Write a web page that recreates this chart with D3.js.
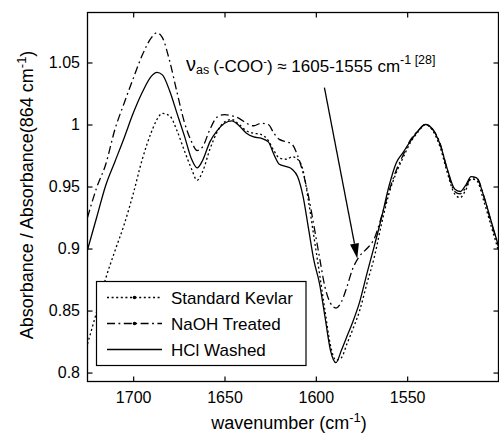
<!DOCTYPE html>
<html>
<head>
<meta charset="utf-8">
<script src="https://cdn.jsdelivr.net/npm/d3@7"></script>
<style>
  body { margin: 0; background: #fff; }
  svg { display: block; font-family: "Liberation Sans", Arial, sans-serif; }
</style>
</head>
<body>
<div id="chart"></div>
<script>
// valeurs (absorbance normalisée à 864 cm-1)
const wavenumber = [1725, 1720, 1715, 1710, 1705, 1700, 1695, 1690, 1687, 1684, 1680, 1676, 1672, 1668, 1665, 1662, 1658, 1654, 1650, 1646, 1642, 1638, 1634, 1630, 1626, 1623, 1620, 1616, 1613, 1610, 1607, 1604, 1601, 1598, 1595, 1592, 1589, 1586, 1583, 1580, 1576, 1572, 1568, 1564, 1560, 1556, 1552, 1548, 1544, 1540, 1536, 1532, 1528, 1524, 1521, 1518, 1515, 1512, 1508, 1504, 1500];

const standardKevlar = [0.823, 0.849, 0.876, 0.898, 0.919, 0.944, 0.972, 0.994, 1.004, 1.009, 1.007, 0.995, 0.979, 0.964, 0.955, 0.962, 0.980, 0.994, 1.002, 1.004, 1.000, 0.995, 0.993, 0.992, 0.987, 0.979, 0.973, 0.972, 0.974, 0.972, 0.963, 0.938, 0.909, 0.880, 0.850, 0.822, 0.810, 0.812, 0.823, 0.834, 0.850, 0.872, 0.893, 0.920, 0.944, 0.961, 0.974, 0.986, 0.994, 1.000, 0.995, 0.982, 0.961, 0.944, 0.941, 0.947, 0.956, 0.955, 0.938, 0.918, 0.898];

const naohTreated = [0.925, 0.949, 0.968, 0.996, 1.017, 1.037, 1.056, 1.070, 1.074, 1.070, 1.051, 1.026, 1.002, 0.986, 0.979, 0.982, 0.996, 1.006, 1.008, 1.007, 1.005, 1.001, 0.999, 1.001, 1.000, 0.993, 0.988, 0.986, 0.984, 0.975, 0.961, 0.942, 0.918, 0.893, 0.869, 0.856, 0.852, 0.857, 0.869, 0.883, 0.894, 0.900, 0.908, 0.926, 0.946, 0.963, 0.976, 0.988, 0.995, 1.000, 0.996, 0.985, 0.963, 0.946, 0.944, 0.949, 0.957, 0.957, 0.942, 0.921, 0.902];

const hclWashed = [0.899, 0.925, 0.951, 0.970, 0.989, 1.009, 1.026, 1.039, 1.042, 1.040, 1.027, 1.009, 0.991, 0.972, 0.965, 0.971, 0.986, 0.995, 1.001, 1.003, 0.999, 0.993, 0.990, 0.989, 0.986, 0.976, 0.968, 0.966, 0.964, 0.958, 0.942, 0.916, 0.890, 0.872, 0.845, 0.818, 0.808, 0.818, 0.829, 0.840, 0.857, 0.880, 0.902, 0.925, 0.950, 0.969, 0.978, 0.987, 0.995, 1.000, 0.996, 0.984, 0.964, 0.948, 0.946, 0.951, 0.958, 0.957, 0.942, 0.922, 0.902];

const seriesNames = ["Standard Kevlar", "NaOH Treated", "HCl Washed"];

const xTicks = [1700, 1650, 1600, 1550];
const xTickLabels = ["1700", "1650", "1600", "1550"];
const yTicks = [0.8, 0.85, 0.9, 0.95, 1, 1.05];
const yTickLabels = ["0.8", "0.85", "0.9", "0.95", "1", "1.05"];

// flèche de l'annotation (coordonnées données)
const arrowFrom = [1595.3, 1.0298];
const arrowTo = [1577.3, 0.892];

const canvasWidth = 499;
const canvasHeight = 433;
const plot = { left: 87.5, right: 498.5, top: 12.5, bottom: 381.5 };

const x = d3.scaleLinear([1725, 1500], [plot.left, plot.right]);
const y = d3.scaleLinear([0.7928, 1.0903], [plot.bottom, plot.top]);

const svg = d3
  .select("#chart")
  .append("svg")
  .attr("width", canvasWidth)
  .attr("height", canvasHeight);

svg.append("rect")
  .attr("width", canvasWidth)
  .attr("height", canvasHeight)
  .attr("fill", "white");

// axes, ticks vers l'intérieur (style matlab)
const tickLen = 5;

svg.append("g")
  .attr("transform", `translate(0,${plot.bottom})`)
  .call(d3.axisBottom(x).tickValues(xTicks)
    .tickFormat((d, i) => xTickLabels[i])
    .tickSizeInner(-tickLen).tickSizeOuter(0).tickPadding(10));

svg.append("g")
  .attr("transform", `translate(0,${plot.top})`)
  .call(d3.axisTop(x).tickValues(xTicks).tickFormat("")
    .tickSizeInner(-tickLen).tickSizeOuter(0));

svg.append("g")
  .attr("transform", `translate(${plot.left},0)`)
  .call(d3.axisLeft(y).tickValues(yTicks)
    .tickFormat((d, i) => yTickLabels[i])
    .tickSizeInner(-tickLen).tickSizeOuter(0).tickPadding(7.5));

svg.append("g")
  .attr("transform", `translate(${plot.right},0)`)
  .call(d3.axisRight(y).tickValues(yTicks).tickFormat("")
    .tickSizeInner(-tickLen).tickSizeOuter(0));

svg.selectAll(".domain").remove();
svg.selectAll(".tick line").attr("stroke", "black").attr("stroke-width", 1.2);
svg.selectAll(".tick text")
  .attr("fill", "black")
  .attr("font-size", "16px")
  .attr("font-family", "Liberation Sans, Arial, sans-serif");

// courbes
svg.append("clipPath")
  .attr("id", "clip")
  .append("rect")
  .attr("x", plot.left)
  .attr("y", plot.top)
  .attr("width", plot.right - plot.left)
  .attr("height", plot.bottom - plot.top);

const styles = [
  { values: standardKevlar, dash: "2,2.6", marker: true },
  { values: naohTreated, dash: "8,3.5,1.8,3.5", marker: true },
  { values: hclWashed, dash: "none", marker: false },
];

styles.forEach((s) => {
  const line = d3.line()
    .curve(d3.curveMonotoneX)
    .x((d, i) => x(wavenumber[i]))
    .y((d) => y(d));

  svg.append("path")
    .attr("d", line(s.values))
    .attr("clip-path", "url(#clip)")
    .attr("fill", "none")
    .attr("stroke", "black")
    .attr("stroke-width", 1.3)
    .attr("stroke-dasharray", s.dash);
});

// annotation
const ax1 = x(arrowFrom[0]), ay1 = y(arrowFrom[1]);
const ax2 = x(arrowTo[0]), ay2 = y(arrowTo[1]);
const ang = Math.atan2(ay2 - ay1, ax2 - ax1);
const headLen = 15, headW = 4.5;
const bx = ax2 - headLen * Math.cos(ang), by = ay2 - headLen * Math.sin(ang);

svg.append("line")
  .attr("x1", ax1).attr("y1", ay1)
  .attr("x2", bx).attr("y2", by)
  .attr("stroke", "black")
  .attr("stroke-width", 1.3);

svg.append("path")
  .attr("d", `M${ax2},${ay2}L${bx - headW * Math.sin(ang)},${by + headW * Math.cos(ang)}L${bx + headW * Math.sin(ang)},${by - headW * Math.cos(ang)}Z`)
  .attr("fill", "black");

const note = svg.append("text")
  .attr("x", 186)
  .attr("y", 71.5)
  .attr("font-size", "17px")
  .attr("fill", "black");
note.append("tspan").attr("font-size", "20px").attr("dy", -1).text("ν");
note.append("tspan").attr("dy", 3).attr("font-size", "12.5px").text("as");
note.append("tspan").attr("dy", -2).attr("dx", 4).text("(-COO");
note.append("tspan").attr("dy", -7).attr("font-size", "11px").text("-");
note.append("tspan").attr("dy", 7).text(") ≈ 1605-1555 cm");
note.append("tspan").attr("dy", -8).attr("font-size", "12.5px").text("-1");
note.append("tspan").attr("font-size", "12.5px").text(" [28]");

// légende
const legend = { x: 96.5, y: 281.5, w: 209.5, h: 84 };
svg.append("rect")
  .attr("x", legend.x)
  .attr("y", legend.y)
  .attr("width", legend.w)
  .attr("height", legend.h)
  .attr("fill", "white")
  .attr("stroke", "black")
  .attr("stroke-width", 1.2);

styles.forEach((s, index) => {
  const ly = legend.y + 16 + index * 26;
  svg.append("line")
    .attr("x1", 107).attr("y1", ly)
    .attr("x2", 162).attr("y2", ly)
    .attr("stroke", "black")
    .attr("stroke-width", 1.3)
    .attr("stroke-dasharray", s.dash);
  if (s.marker) {
    svg.append("circle")
      .attr("cx", 134.5).attr("cy", ly)
      .attr("r", 1.8)
      .attr("fill", "black");
  }
  svg.append("text")
    .attr("x", 171)
    .attr("y", ly + 6)
    .attr("font-size", "17px")
    .attr("fill", "black")
    .text(seriesNames[index]);
});

// cadre
svg.append("rect")
  .attr("x", plot.left)
  .attr("y", plot.top)
  .attr("width", plot.right - plot.left)
  .attr("height", plot.bottom - plot.top)
  .attr("fill", "none")
  .attr("stroke", "black")
  .attr("stroke-width", 1.3);

// titres des axes
const xLabel = svg.append("text")
  .attr("x", 289)
  .attr("y", 429)
  .attr("text-anchor", "middle")
  .attr("font-size", "18px")
  .attr("fill", "black");
xLabel.append("tspan").text("wavenumber (cm");
xLabel.append("tspan").attr("dy", -7).attr("font-size", "13px").text("-1");
xLabel.append("tspan").attr("dy", 7).text(")");

const yLabel = svg.append("text")
  .attr("transform", "translate(33,195) rotate(-90)")
  .attr("text-anchor", "middle")
  .attr("font-size", "18px")
  .attr("fill", "black");
yLabel.append("tspan").text("Absorbance / Absorbance(864 cm");
yLabel.append("tspan").attr("dy", -7).attr("font-size", "13px").text("-1");
yLabel.append("tspan").attr("dy", 7).text(")");
</script>
</body>
</html>
